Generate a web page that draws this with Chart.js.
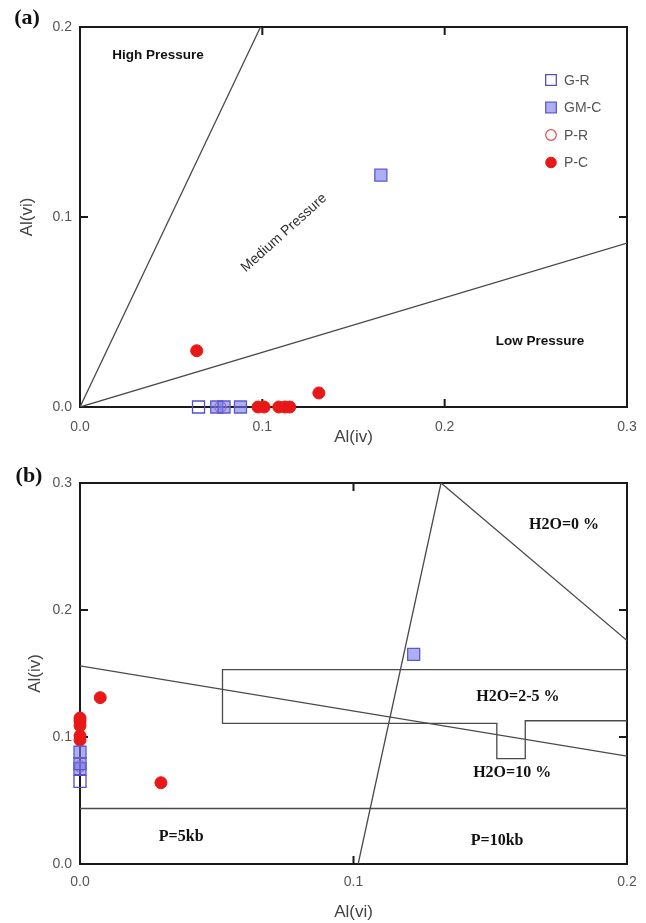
<!DOCTYPE html>
<html>
<head>
<meta charset="utf-8">
<script src="https://cdn.jsdelivr.net/npm/chart.js@4.4.0/dist/chart.umd.min.js"></script>
<style>
  html, body { margin: 0; padding: 0; background: #fff; }
  canvas { position: absolute; left: 0; display: block; }
  #chartA { top: 0; }
  #chartB { top: 460px; }
</style>
</head>
<body>
<canvas id="chartA" width="646" height="460"></canvas>
<canvas id="chartB" width="646" height="463"></canvas>
<script>
// series (same samples in both panels, axes swapped in (b))
const seriesNames = ['G-R', 'GM-C', 'P-R', 'P-C'];
const grAlIV = [0.065];
const grAlVI = [0];
const gmcAlIV = [0.075, 0.079, 0.088, 0.165];
const gmcAlVI = [0, 0, 0, 0.122];
const prAlIV = [0.077];
const prAlVI = [0];
const pcAlIV = [0.0976, 0.101, 0.109, 0.1125, 0.115, 0.131, 0.064];
const pcAlVI = [0, 0, 0, 0, 0, 0.0074, 0.0296];

// boundary lines, panel (a): x = Al(iv), y = Al(vi)
const highLineX = [0, 0.099];
const highLineY = [0, 0.2];
const lowLineX = [0, 0.3];
const lowLineY = [0, 0.0863];

// boundary lines, panel (b): x = Al(vi), y = Al(iv)
const steepLineX = [0.1017, 0.132];
const steepLineY = [0, 0.3];
const dryLineX = [0.132, 0.2];
const dryLineY = [0.3, 0.176];
const wetLineX = [0, 0.2];
const wetLineY = [0.156, 0.085];
const pressLineX = [0, 0.2];
const pressLineY = [0.0437, 0.0437];
const boxX = [0.2, 0.0521, 0.0521, 0.1524, 0.1524, 0.1628, 0.1628, 0.2];
const boxY = [0.153, 0.153, 0.1108, 0.1108, 0.083, 0.083, 0.1128, 0.1128];

// tick labels
const ticksA_x = ['0.0', '0.1', '0.2', '0.3'];
const ticksA_y = ['0.0', '0.1', '0.2'];
const ticksB_x = ['0.0', '0.1', '0.2'];
const ticksB_y = ['0.0', '0.1', '0.2', '0.3'];

const pts = (xs, ys) => xs.map((v, i) => ({ x: v, y: ys[i] }));

const markerStyles = [
  { pointStyle: 'rect', pointRadius: 8.5, borderColor: '#5050c8', backgroundColor: 'rgba(255,255,255,0)', borderWidth: 1.3 },
  { pointStyle: 'rect', pointRadius: 8.5, borderColor: '#5b5bd0', backgroundColor: 'rgba(120,120,235,0.6)', borderWidth: 1.3 },
  { pointStyle: 'circle', pointRadius: 5.5, borderColor: '#e05050', backgroundColor: 'rgba(255,255,255,0)', borderWidth: 1.2 },
  { pointStyle: 'circle', pointRadius: 6, borderColor: '#e81818', backgroundColor: '#e81818', borderWidth: 1 }
];

function pointSets(swap) {
  const raw = [[grAlIV, grAlVI], [gmcAlIV, gmcAlVI], [prAlIV, prAlVI], [pcAlIV, pcAlVI]];
  return raw.map((r, i) => Object.assign({
    label: seriesNames[i],
    data: swap ? pts(r[1], r[0]) : pts(r[0], r[1]),
    clip: false
  }, markerStyles[i]));
}

function lineSet(xs, ys) {
  return {
    label: '',
    data: pts(xs, ys),
    showLine: true,
    pointRadius: 0,
    borderColor: '#4a4a4a',
    borderWidth: 1.3,
    fill: false
  };
}

// frame, inward ticks, annotations, legend
const decorPlugin = {
  id: 'decor',
  beforeDatasetsDraw(chart, args, opts) {
    const { ctx, chartArea: a, scales: { x, y } } = chart;
    ctx.save();
    ctx.strokeStyle = '#1a1a1a';
    ctx.lineWidth = 2;
    ctx.strokeRect(a.left, a.top, a.right - a.left, a.bottom - a.top);
    ctx.beginPath();
    x.ticks.forEach(t => {
      const px = x.getPixelForValue(t.value);
      ctx.moveTo(px, a.bottom); ctx.lineTo(px, a.bottom - 8);
      ctx.moveTo(px, a.top); ctx.lineTo(px, a.top + 8);
    });
    y.ticks.forEach(t => {
      const py = y.getPixelForValue(t.value);
      ctx.moveTo(a.left, py); ctx.lineTo(a.left + 8, py);
      ctx.moveTo(a.right, py); ctx.lineTo(a.right - 8, py);
    });
    ctx.stroke();

    // region labels
    (opts.notes || []).forEach(n => {
      ctx.save();
      ctx.translate(x.getPixelForValue(n.x), y.getPixelForValue(n.y));
      ctx.rotate((n.angle || 0) * Math.PI / 180);
      ctx.font = n.font;
      ctx.fillStyle = n.color || '#111';
      ctx.textAlign = 'center';
      ctx.textBaseline = 'middle';
      ctx.fillText(n.text, 0, 0);
      ctx.restore();
    });

    // panel letter
    ctx.font = 'bold 22px "Liberation Serif", serif';
    ctx.fillStyle = '#111';
    ctx.textAlign = 'center';
    ctx.textBaseline = 'middle';
    ctx.fillText(opts.panel, opts.panelX, opts.panelY);
    ctx.restore();
  },
  afterDraw(chart, args, opts) {
    if (!opts.legend) return;
    const { ctx } = chart;
    ctx.save();
    seriesNames.forEach((name, i) => {
      const ds = chart.data.datasets[i];
      const cy = opts.legendY + i * 27.5;
      ctx.fillStyle = ds.backgroundColor;
      ctx.strokeStyle = ds.borderColor;
      ctx.lineWidth = ds.borderWidth;
      Chart.helpers.drawPoint(ctx, {
        pointStyle: ds.pointStyle,
        radius: ds.pointStyle === 'rect' ? 7.5 : 5.3,
        rotation: 0,
        borderWidth: ds.borderWidth
      }, opts.legendX, cy);
      ctx.font = '14px "Liberation Sans", Arial, sans-serif';
      ctx.fillStyle = '#555';
      ctx.textAlign = 'left';
      ctx.textBaseline = 'middle';
      ctx.fillText(name, opts.legendX + 13, cy + 1);
    });
    ctx.restore();
  }
};

function makeChart(id, cfg) {
  const tickFont = { family: '"Liberation Sans", Arial, sans-serif', size: 14 };
  const titleFont = { family: '"Liberation Sans", Arial, sans-serif', size: 17 };
  return new Chart(document.getElementById(id), {
    type: 'scatter',
    data: { datasets: cfg.datasets },
    plugins: [decorPlugin],
    options: {
      responsive: false,
      animation: false,
      events: [],
      layout: { padding: { top: cfg.padTop, right: 19, left: 0, bottom: 0 } },
      plugins: {
        legend: { display: false },
        tooltip: { enabled: false },
        decor: cfg.decor
      },
      scales: {
        x: {
          type: 'linear', min: 0, max: cfg.xMax,
          grid: { display: false, drawTicks: false },
          border: { display: false },
          ticks: {
            stepSize: 0.1, padding: cfg.xTickPad, color: '#555', font: tickFont,
            callback: (v, i) => cfg.xLabels[i]
          },
          title: { display: true, text: cfg.xTitle, color: '#444', font: titleFont, padding: { top: 0, bottom: cfg.xTitlePad } },
          afterFit: s => { s.height = cfg.xHeight; s.paddingLeft = 0; s.paddingRight = 0; }
        },
        y: {
          type: 'linear', min: 0, max: cfg.yMax,
          grid: { display: false, drawTicks: false },
          border: { display: false },
          ticks: {
            stepSize: 0.1, padding: 8, color: '#555', font: tickFont,
            callback: (v, i) => cfg.yLabels[i]
          },
          title: { display: true, text: cfg.yTitle, color: '#444', font: titleFont, padding: { top: cfg.yTitlePad, bottom: 0 } },
          afterFit: s => { s.width = 80; s.paddingTop = 0; s.paddingBottom = 0; }
        }
      }
    }
  });
}

const noteSans = 'bold 13.5px "Liberation Sans", Arial, sans-serif';
const noteSerif = 'bold 16px "Liberation Serif", "Times New Roman", serif';

makeChart('chartA', {
  datasets: pointSets(false).concat([lineSet(highLineX, highLineY), lineSet(lowLineX, lowLineY)]),
  padTop: 27, xMax: 0.3, yMax: 0.2, xHeight: 53, xTickPad: 11.6, xTitlePad: 12.8, yTitlePad: 17,
  xLabels: ticksA_x, yLabels: ticksA_y, xTitle: 'Al(iv)', yTitle: 'Al(vi)',
  decor: {
    panel: '(a)', panelX: 27, panelY: 18,
    legend: true, legendX: 551, legendY: 80,
    notes: [
      { text: 'High Pressure', x: 0.0428, y: 0.1853, font: noteSans },
      { text: 'Low Pressure', x: 0.2523, y: 0.0347, font: noteSans },
      { text: 'Medium Pressure', x: 0.1119, y: 0.0916, angle: -42, font: '14px "Liberation Sans", Arial, sans-serif', color: '#333' }
    ]
  }
});

makeChart('chartB', {
  datasets: pointSets(true).concat([
    lineSet(steepLineX, steepLineY), lineSet(dryLineX, dryLineY), lineSet(wetLineX, wetLineY),
    lineSet(pressLineX, pressLineY), lineSet(boxX, boxY)
  ]),
  padTop: 23, xMax: 0.2, yMax: 0.3, xHeight: 59, xTickPad: 10, xTitlePad: 0, yTitlePad: 25,
  xLabels: ticksB_x, yLabels: ticksB_y, xTitle: 'Al(vi)', yTitle: 'Al(iv)',
  decor: {
    panel: '(b)', panelX: 29, panelY: 16,
    legend: false,
    notes: [
      { text: 'H2O=0 %', x: 0.177, y: 0.267, font: noteSerif },
      { text: 'H2O=2-5 %', x: 0.1601, y: 0.1313, font: noteSerif },
      { text: 'H2O=10 %', x: 0.158, y: 0.0717, font: noteSerif },
      { text: 'P=5kb', x: 0.037, y: 0.0213, font: noteSerif },
      { text: 'P=10kb', x: 0.1525, y: 0.0181, font: noteSerif }
    ]
  }
});
</script>
</body>
</html>
